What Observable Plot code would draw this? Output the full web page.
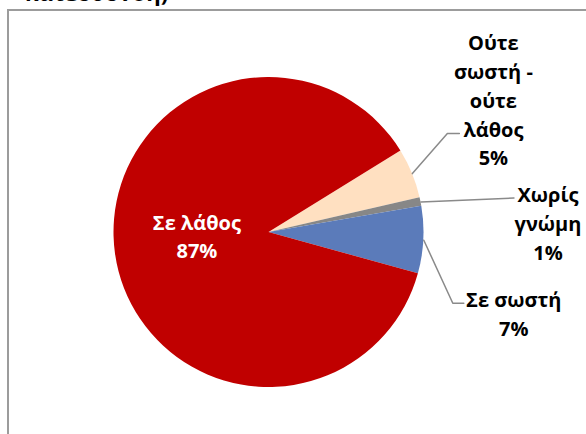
<!DOCTYPE html>
<html><head><meta charset="utf-8">
<script src="https://cdn.jsdelivr.net/npm/d3@7"></script>
<script src="https://cdn.jsdelivr.net/npm/@observablehq/plot@0.6"></script>
<style>
html,body{margin:0;padding:0;background:#fff;width:586px;height:434px;overflow:hidden}
#wrap{position:relative;width:586px;height:434px;overflow:hidden}
#title{position:absolute;left:25px;top:-19px;font:bold 22px "Open Sans",sans-serif;color:#000;white-space:nowrap;line-height:22px}
#frame{position:absolute;left:7px;top:9px;width:700px;height:600px;border:2px solid #9c9c9c;box-sizing:border-box;pointer-events:none}
#chart{position:absolute;left:0;top:0}
</style></head>
<body><div id="wrap"><div id="title"></div><div id="chart"></div><div id="frame"></div></div>
<script>
// ---- data ----
const categories = ["Ούτε σωστή - ούτε λάθος", "Χωρίς γνώμη", "Σε σωστή", "Σε λάθος"];
const labelText = ["Ούτε\nσωστή -\nούτε\nλάθος", "Χωρίς\nγνώμη", "Σε σωστή", "Σε λάθος"];
const values = [5.2, 0.9, 7.0, 86.9];
const sliceColors = ["#FFE0C1", "#878787", "#5B7BBA", "#C00000"];
const titleText = "κατεύθυνση)";

// ---- layout ----
const W = 586, H = 434, cx = 268.5, cy = 232, R = 155, startDeg = 58.3;
const labelLayout = [
  {k: 1, dx: 81, dy: -75, inside: false, leader: [[35, -40], [47, -40]]},
  {k: 1, dx: 127, dy: 20, inside: false, leader: [[93, -4]]},
  {k: 1, dx: 90, dy: 72, inside: false, leader: [[29, 63], [40, 63]]},
  {k: 0.47, dx: 0, dy: -8, inside: true, leader: null}
];

document.getElementById("title").textContent = titleText;

const a0 = startDeg * Math.PI / 180;
const pie = d3.pie().sort(null).value(d => d).startAngle(a0).endAngle(a0 + 2 * Math.PI);
const arcs = pie(values);
const total = d3.sum(values);
const fmt = d3.format(".0%");

const color = Plot.scale({color: {type: "ordinal", domain: categories, range: sliceColors}});

const labels = arcs.map((a, i) => {
  const mid = (a.startAngle + a.endAngle) / 2;
  const L = labelLayout[i];
  const ex = cx + R * L.k * Math.sin(mid), ey = cy - R * L.k * Math.cos(mid);
  return {cat: categories[i], text: labelText[i] + "\n" + fmt(values[i] / total), x: ex + L.dx, y: ey + L.dy, inside: L.inside};
});

const leaders = [];
arcs.forEach((a, i) => {
  const L = labelLayout[i];
  if (!L.leader) return;
  const mid = (a.startAngle + a.endAngle) / 2;
  const ex = cx + R * Math.sin(mid), ey = cy - R * Math.cos(mid);
  leaders.push({cat: categories[i], x: ex, y: ey});
  L.leader.forEach(([dx, dy]) => leaders.push({cat: categories[i], x: ex + dx, y: ey + dy}));
});

const pieMark = () => {
  const g = d3.create("svg:g").attr("transform", `translate(${cx},${cy})`);
  const arcGen = d3.arc().innerRadius(0).outerRadius(R);
  g.selectAll("path").data(arcs).join("path")
    .attr("d", arcGen)
    .attr("fill", (d, i) => color.apply(categories[i]));
  return g.node();
};

const font = "'Open Sans', sans-serif";
const chart = Plot.plot({
  width: W, height: H,
  margin: 0,
  style: {background: "transparent"},
  x: {type: "identity", axis: null},
  y: {type: "identity", axis: null},
  marks: [
    pieMark,
    Plot.line(leaders, {x: "x", y: "y", z: "cat", stroke: "#8a8a8a", strokeWidth: 1.5}),
    Plot.text(labels.filter(d => !d.inside), {x: "x", y: "y", text: "text", fill: "#000", fontSize: 20, fontWeight: "bold", fontFamily: font, lineHeight: 1.44}),
    Plot.text(labels.filter(d => d.inside), {x: "x", y: "y", text: "text", fill: "#fff", fontSize: 20, fontWeight: "bold", fontFamily: font, lineHeight: 1.44})
  ]
});
document.getElementById("chart").appendChild(chart);
</script>
</body></html>
